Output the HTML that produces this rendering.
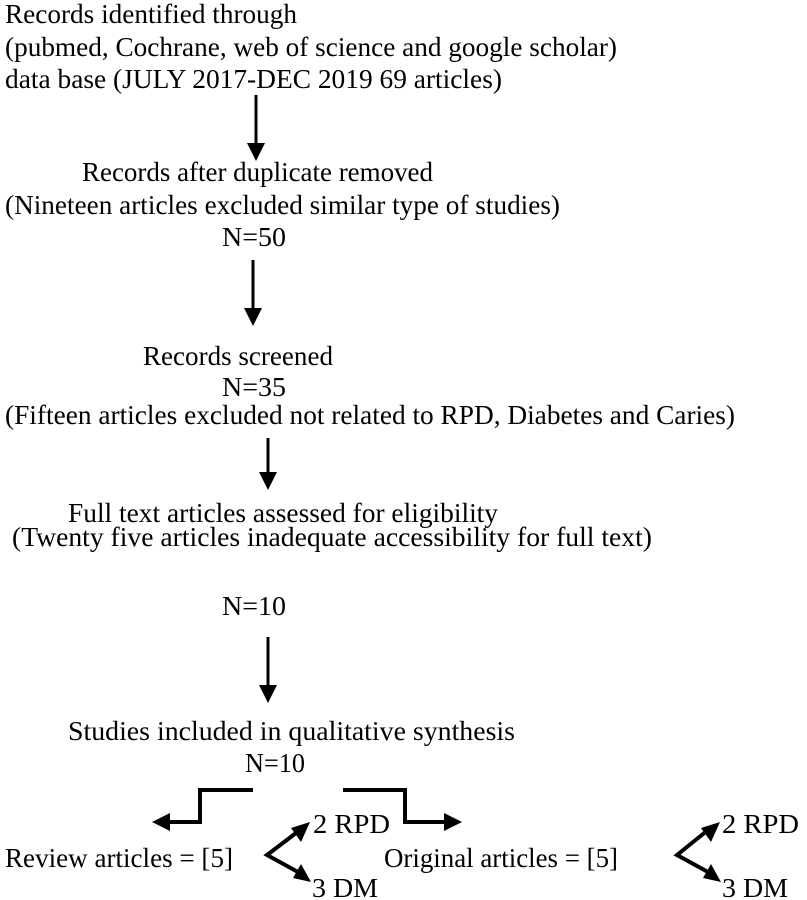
<!DOCTYPE html>
<html><head><meta charset="utf-8"><style>
html,body{margin:0;padding:0;background:#fff}
svg{display:block}
text{font-family:"Liberation Serif",serif;font-size:27px;fill:#000}
</style></head><body>
<svg width="807" height="900" viewBox="0 0 807 900" xmlns="http://www.w3.org/2000/svg">
<text x="5" y="23" textLength="292" lengthAdjust="spacingAndGlyphs">Records identified through</text>
<text x="5" y="56" textLength="612" lengthAdjust="spacingAndGlyphs">(pubmed, Cochrane, web of science and google scholar)</text>
<text x="5" y="88" textLength="497" lengthAdjust="spacingAndGlyphs">data base (JULY 2017-DEC 2019 69 articles)</text>
<line x1="256" y1="95" x2="256" y2="145" stroke="#000" stroke-width="3"/>
<polygon points="247,143 265,143 256,161" fill="#000"/>

<text x="82" y="181" textLength="351" lengthAdjust="spacingAndGlyphs">Records after duplicate removed</text>
<text x="5" y="214" textLength="555" lengthAdjust="spacingAndGlyphs">(Nineteen articles excluded similar type of studies)</text>
<text x="222" y="246" textLength="64" lengthAdjust="spacingAndGlyphs">N=50</text>
<line x1="253" y1="260" x2="253" y2="310" stroke="#000" stroke-width="3"/>
<polygon points="244,308 262,308 253,326" fill="#000"/>

<text x="143" y="365" textLength="190" lengthAdjust="spacingAndGlyphs">Records screened</text>
<text x="222" y="396" textLength="64" lengthAdjust="spacingAndGlyphs">N=35</text>
<text x="5" y="424" textLength="730" lengthAdjust="spacingAndGlyphs">(Fifteen articles excluded not related to RPD, Diabetes and Caries)</text>
<line x1="268" y1="438" x2="268" y2="474" stroke="#000" stroke-width="3"/>
<polygon points="259,472 277,472 268,490" fill="#000"/>

<text x="68" y="522" textLength="430" lengthAdjust="spacingAndGlyphs">Full text articles assessed for eligibility</text>
<text x="12" y="546" textLength="640" lengthAdjust="spacingAndGlyphs">(Twenty five articles inadequate accessibility for full text)</text>
<text x="222" y="615" textLength="64" lengthAdjust="spacingAndGlyphs">N=10</text>
<line x1="268" y1="637" x2="268" y2="687" stroke="#000" stroke-width="3"/>
<polygon points="259,685 277,685 268,703" fill="#000"/>

<text x="68" y="740" textLength="447" lengthAdjust="spacingAndGlyphs">Studies included in qualitative synthesis</text>
<text x="245" y="772" textLength="60" lengthAdjust="spacingAndGlyphs">N=10</text>

<polyline points="253,790 200,790 200,822 168,822" fill="none" stroke="#000" stroke-width="4"/>
<polygon points="152,822 170,813 170,831" fill="#000"/>
<polyline points="343,790 405,790 405,822 446,822" fill="none" stroke="#000" stroke-width="4"/>
<polygon points="462,822 444,813 444,831" fill="#000"/>

<polyline points="300,830 267,855 298,872" fill="none" stroke="#000" stroke-width="4"/>
<polygon points="310,822 291,828 301,842" fill="#000"/>
<polygon points="311,882 301,864 293,878" fill="#000"/>
<polyline points="708,830 677,855 708,872" fill="none" stroke="#000" stroke-width="4"/>
<polygon points="720,822 701,828 711,842" fill="#000"/>
<polygon points="721,882 711,864 703,878" fill="#000"/>

<text x="5" y="867" textLength="228" lengthAdjust="spacingAndGlyphs">Review articles = [5]</text>
<text x="313" y="833" textLength="77" lengthAdjust="spacingAndGlyphs">2 RPD</text>
<text x="312" y="897" textLength="66" lengthAdjust="spacingAndGlyphs">3 DM</text>
<text x="384" y="867" textLength="234" lengthAdjust="spacingAndGlyphs">Original articles = [5]</text>
<text x="722" y="833" textLength="77" lengthAdjust="spacingAndGlyphs">2 RPD</text>
<text x="722" y="897" textLength="66" lengthAdjust="spacingAndGlyphs">3 DM</text>
</svg>
</body></html>
